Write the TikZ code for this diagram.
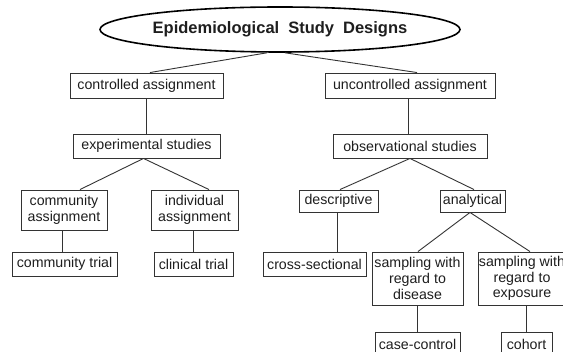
\documentclass[tikz,border=0pt]{standalone}
\usepackage{fontspec}
\setmainfont{Liberation Sans}
\usetikzlibrary{shapes.geometric}
\definecolor{linec}{HTML}{333333}
\definecolor{textc}{HTML}{1E1E1E}
\tikzset{
  box/.style={draw=linec, line width=0.9pt, fill=white, inner sep=0pt, align=center,
    text=textc, font=\fontsize{14.2}{15.8}\selectfont},
  conn/.style={draw=linec, line width=0.9pt},
  title/.style={ellipse, draw=black, line width=1.6pt, fill=white, inner sep=0pt,
    minimum width=306pt, minimum height=45pt, text=textc,
    font=\fontsize{16.5}{18}\selectfont\bfseries}
}
\begin{document}
\begin{tikzpicture}[x=1pt,y=-1pt]
\useasboundingbox (0,0) rectangle (563,352);
\clip (0,0) rectangle (563,352);
\fill[white] (0,0) rectangle (563,352);

\node[title] (e) at (280,29.5) {Epidemiological\hspace{9pt}Study\hspace{9pt}Designs};

\node[box, minimum width=153pt, minimum height=25pt] (ca) at (146.5,85.5) {controlled assignment};
\node[box, minimum width=170pt, minimum height=25pt] (ua) at (410,85.5) {uncontrolled assignment};

\node[box, minimum width=147pt, minimum height=24pt] (es) at (146.5,146) {experimental studies};
\node[box, minimum width=154pt, minimum height=24pt] (os) at (410,146) {observational studies};

\node[box, minimum width=86pt, minimum height=40pt] (cma) at (64,210) {community\\assignment};
\node[box, minimum width=87pt, minimum height=40pt] (ia) at (194.5,210) {individual\\assignment};

\node[box, minimum width=105pt, minimum height=24pt] (ct) at (64.5,264) {community trial};
\node[box, minimum width=79pt, minimum height=24pt] (clt) at (193.5,264) {clinical trial};

\node[box, minimum width=79pt, minimum height=22pt] (de) at (338.5,201) {descriptive};
\node[box, minimum width=65pt, minimum height=22pt] (an) at (472.5,201) {analytical};

\node[box, minimum width=103pt, minimum height=24pt] (cs) at (314.5,264) {cross-sectional};
\node[box, minimum width=91pt, minimum height=53pt] (sd) at (417.5,278.5) {sampling with\\regard to\\disease};
\node[box, minimum width=88pt, minimum height=53pt] (se) at (522,278.5) {sampling with\\regard to\\exposure};

\node[box, minimum width=85pt, minimum height=24pt] (cc) at (417.5,344) {case-control};
\node[box, minimum width=51pt, minimum height=24pt] (co) at (526.5,344) {cohort};

% connectors
\draw[conn] ([xshift=-13pt]e.south) -- ([xshift=3.5pt]ca.north);
\draw[conn] ([xshift=5pt]e.south) -- ([xshift=7pt]ua.north);
\draw[conn] (ca.south) -- (es.north);
\draw[conn] ([xshift=-1.5pt]ua.south) -- ([xshift=-1.5pt]os.north);
\draw[conn] ([xshift=-3pt]es.south) -- ([xshift=16pt]cma.north);
\draw[conn] ([xshift=-3pt]es.south) -- ([xshift=14.5pt]ia.north);
\draw[conn] ([xshift=-2pt]cma.south) -- ([xshift=-2pt]cma.south |- ct.north);
\draw[conn] ([xshift=-1.5pt]ia.south) -- ([xshift=-1.5pt]ia.south |- clt.north);
\draw[conn] (os.south) -- ([xshift=1.5pt]de.north);
\draw[conn] (os.south) -- ([xshift=1.5pt]an.north);
\draw[conn] ([xshift=-1.5pt]de.south) -- ([xshift=-1.5pt]de.south |- cs.north);
\draw[conn] ([xshift=-2.5pt]an.south) -- ([xshift=0.5pt]sd.north);
\draw[conn] ([xshift=-2.5pt]an.south) -- ([xshift=8pt]se.north);
\draw[conn] (sd.south) -- (cc.north);
\draw[conn] ([xshift=4.5pt]se.south) -- (co.north);
\end{tikzpicture}
\end{document}
